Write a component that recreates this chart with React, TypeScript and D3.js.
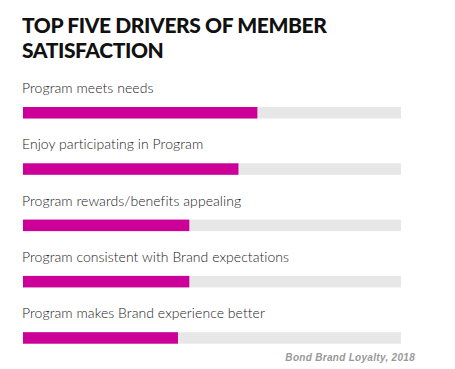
import React from 'react';
import * as d3 from 'd3';

const titleLines = ['TOP FIVE DRIVERS OF MEMBER', 'SATISFACTION'];
const drivers = [
  'Program meets needs',
  'Enjoy participating in Program',
  'Program rewards/benefits appealing',
  'Program consistent with Brand expectations',
  'Program makes Brand experience better',
];
const scores = [62, 57, 44, 44, 41];
const source = 'Bond Brand Loyalty, 2018';

const W = 455;
const H = 369;

const App = () => {
  const x = d3.scaleLinear().domain([0, 100]).range([23, 401]);
  const rows = d3.scaleBand().domain(drivers).range([79, 79 + 56.3 * drivers.length]).padding(0);
  const barH = 11.5;

  return (
    <svg
      width={W}
      height={H}
      style={{ position: 'absolute', left: 0, top: 0, background: '#fff' }}
      fontFamily="Lato, 'Open Sans', sans-serif"
    >
      <rect width={W} height={H} fill="#fff" />
      {titleLines.map((t, i) => (
        <text
          key={t}
          x={22}
          y={33 + i * 25}
          fontSize={21}
          fontWeight={900}
          fill="#111"
          letterSpacing={-0.4}
        >
          {t}
        </text>
      ))}
      {drivers.map((d, i) => {
        const y0 = rows(d) as number;
        return (
          <g key={d}>
            <text x={22} y={y0 + 14} fontSize={14} fontWeight={300} fill="#1a1a1a" letterSpacing={0.05}>
              {d}
            </text>
            <rect x={x(0)} y={y0 + 28} width={x(100) - x(0)} height={barH} fill="#e7e7e8" />
            <rect x={x(0)} y={y0 + 28} width={x(scores[i]) - x(0)} height={barH} fill="#cc0099" />
          </g>
        );
      })}
      <text
        x={415}
        y={361}
        textAnchor="end"
        fontSize={10}
        fontWeight={700}
        fontStyle="italic"
        fill="#999"
        fontFamily="Arial, 'Liberation Sans', sans-serif"
        letterSpacing={0.3}
      >
        {source}
      </text>
    </svg>
  );
};

export default App;
